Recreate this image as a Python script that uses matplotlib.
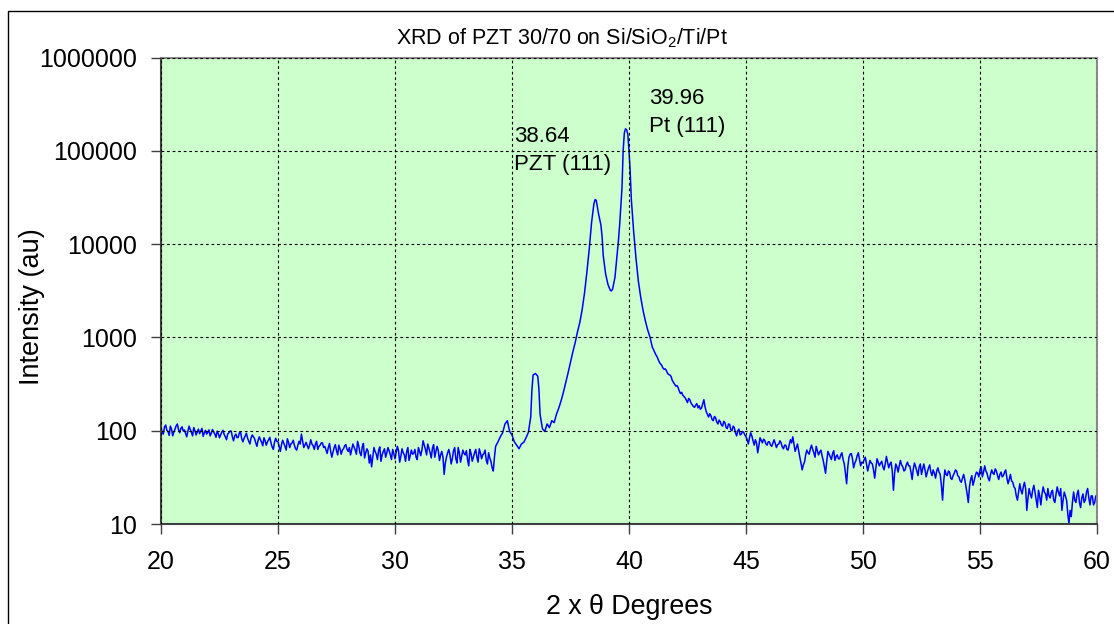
import numpy as np
import matplotlib
matplotlib.use("Agg")
import matplotlib.pyplot as plt
from matplotlib.patches import Rectangle

plt.rcParams["font.family"] = ["Liberation Sans", "DejaVu Sans"]
plt.rcParams["mathtext.fontset"] = "custom"
plt.rcParams["mathtext.rm"] = "Liberation Sans"

# ---- scan data ----
# low-angle background, 20.00 .. 34.40 deg, 0.05 deg steps
theta_low = np.round(np.arange(20.0, 34.425, 0.05), 2)
counts_low = [
    108, 96, 92, 110, 115, 101, 98, 89, 112, 104, 88, 97, 104, 113, 118, 102, 95, 106, 110, 99,
    102, 94, 86, 99, 112, 103, 96, 88, 108, 100, 90, 97, 104, 93, 99, 106, 87, 95, 101, 92,
    96, 102, 88, 94, 103, 97, 92, 85, 99, 93, 84, 90, 97, 101, 91, 86, 80, 92, 95, 99,
    99, 86, 78, 88, 92, 84, 85, 95, 97, 82, 76, 83, 88, 94, 83, 77, 72, 84, 90, 86,
    82, 74, 68, 79, 86, 80, 75, 69, 84, 78, 70, 76, 80, 85, 74, 67, 63, 75, 83, 77,
    76, 68, 60, 71, 79, 73, 68, 62, 82, 75, 66, 72, 74, 79, 70, 64, 62, 70, 77, 72,
    92, 78, 66, 70, 75, 69, 64, 70, 80, 72, 69, 63, 72, 77, 63, 68, 70, 74, 74, 66,
    68, 62, 57, 66, 73, 60, 52, 59, 66, 71, 61, 55, 70, 64, 56, 62, 64, 69, 71, 63,
    60, 66, 55, 63, 72, 67, 62, 56, 77, 69, 58, 54, 67, 73, 51, 58, 64, 60, 45, 55,
    41, 52, 66, 60, 56, 49, 62, 67, 47, 55, 60, 64, 52, 58, 66, 61, 55, 49, 63, 57,
    50, 58, 68, 61, 46, 53, 64, 58, 55, 47, 60, 66, 48, 54, 62, 56, 57, 63, 52, 49,
    66, 60, 54, 62, 78, 70, 63, 55, 72, 65, 58, 51, 65, 71, 52, 60, 68, 61, 48, 55,
    60, 52, 34, 45, 52, 58, 63, 55, 44, 50, 61, 66, 50, 45, 66, 58, 46, 53, 62, 57,
    55, 61, 49, 42, 63, 57, 47, 52, 58, 63, 52, 46, 64, 58, 50, 55, 57, 62, 48, 44,
    58, 51, 47, 40, 37, 52, 68, 72, 76,
]

# peak region, 34.5 .. 40.75 deg
theta_peaks = [
    34.5, 34.6, 34.7, 34.8, 34.9, 35.0, 35.1, 35.2, 35.3, 35.4,
    35.5, 35.6, 35.7, 35.8, 35.85, 35.9, 36.0, 36.1, 36.15, 36.2,
    36.3, 36.4, 36.5, 36.6, 36.7, 36.8, 36.9, 37.0, 37.1, 37.2,
    37.3, 37.4, 37.5, 37.6, 37.7, 37.8, 37.9, 38.0, 38.1, 38.2,
    38.3, 38.4, 38.5, 38.55, 38.6, 38.65, 38.7, 38.8, 38.85, 38.9,
    39.0, 39.1, 39.2, 39.25, 39.3, 39.4, 39.5, 39.55, 39.6, 39.7,
    39.75, 39.8, 39.85, 39.9, 39.95, 40.0, 40.05, 40.1, 40.2, 40.3,
    40.4, 40.5, 40.6, 40.7,
]
counts_peaks = [
    86, 95, 118, 128, 98, 90, 76, 70, 64, 72,
    75, 84, 96, 140, 270, 395, 410, 385, 280, 150,
    105, 98, 118, 108, 128, 122, 150, 175, 210, 260,
    330, 420, 540, 700, 880, 1150, 1450, 2000, 3000, 5000,
    8800, 17000, 27000, 30000, 29500, 25000, 21000, 16000, 12000, 7500,
    4800, 3700, 3200, 3150, 3300, 4400, 8000, 11000, 16000, 40000,
    100000, 155000, 172000, 168000, 150000, 100000, 60000, 30000, 13500, 7000,
    4000, 2700, 1950, 1500,
]

# Pt tail, 40.80 .. 44.95 deg, 0.05 deg steps
theta_tail = np.round(np.arange(40.8, 44.975, 0.05), 2)
counts_tail = [
    1200, 1100, 1000, 880, 780, 740, 690, 650, 620, 580,
    540, 520, 500, 470, 455, 460, 440, 410, 400, 395,
    380, 345, 330, 315, 300, 305, 290, 265, 250, 258,
    240, 232, 225, 212, 200, 222, 215, 198, 190, 182,
    178, 188, 195, 176, 185, 170, 175, 195, 215, 180,
    160, 150, 140, 152, 145, 132, 128, 142, 138, 124,
    118, 130, 125, 115, 112, 126, 122, 108, 105, 118,
    117, 102, 100, 112, 108, 95, 88, 100, 104, 90,
    92, 98, 96, 90,
]

# high-angle background, 45.00 .. 60.00 deg, 0.05 deg steps
theta_high = np.round(np.arange(45.0, 60.025, 0.05), 2)
counts_high = [
    86, 80, 72, 84, 95, 88, 78, 70, 80, 74, 58, 69, 84, 79, 74, 81, 79, 72, 70, 76,
    76, 70, 68, 74, 80, 73, 66, 71, 72, 78, 74, 67, 64, 70, 70, 63, 62, 71, 80, 74,
    86, 72, 60, 66, 72, 61, 52, 45, 38, 43, 46, 55, 62, 58, 56, 64, 70, 63, 58, 52,
    68, 61, 55, 59, 62, 54, 48, 41, 35, 47, 60, 56, 52, 49, 57, 61, 48, 53, 55, 50,
    50, 55, 58, 49, 44, 35, 27, 41, 52, 56, 57, 50, 40, 45, 48, 54, 58, 49, 42, 46,
    45, 49, 52, 44, 37, 42, 48, 45, 44, 38, 31, 40, 50, 46, 42, 45, 47, 41, 38, 44,
    53, 46, 40, 44, 46, 37, 23, 35, 44, 41, 36, 42, 48, 43, 41, 37, 38, 43, 46, 42,
    42, 36, 30, 39, 45, 41, 37, 33, 41, 44, 34, 39, 44, 38, 32, 36, 40, 43, 36, 33,
    38, 35, 31, 37, 40, 36, 34, 26, 18, 29, 38, 34, 33, 37, 36, 31, 30, 33, 35, 38,
    37, 33, 32, 29, 28, 31, 34, 30, 25, 21, 17, 25, 30, 33, 26, 29, 33, 36, 35, 32,
    38, 41, 32, 36, 42, 37, 35, 31, 29, 34, 38, 35, 34, 39, 37, 33, 30, 34, 36, 32,
    33, 36, 38, 31, 27, 30, 34, 29, 28, 25, 24, 20, 18, 22, 27, 23, 21, 25, 28, 24,
    14, 19, 24, 21, 19, 23, 26, 22, 18, 15, 23, 20, 16, 21, 25, 22, 21, 18, 24, 20,
    19, 22, 23, 18, 17, 21, 25, 22, 20, 24, 14, 18, 22, 20, 18, 13, 10, 14, 12, 17,
    22, 18, 17, 21, 23, 17, 15, 19, 21, 17, 18, 22, 24, 19, 16, 20, 20, 16, 17, 20,
    19,
]

x_ticks = [20, 25, 30, 35, 40, 45, 50, 55, 60]
y_ticks = [10, 100, 1000, 10000, 100000, 1000000]
y_tick_labels = ["10", "100", "1000", "10000", "100000", "1000000"]

two_theta = np.concatenate([theta_low, theta_peaks, theta_tail, theta_high])
intensity = np.concatenate([counts_low, counts_peaks, counts_tail, counts_high])

# ---- figure ----
W, H = 1114, 624
fig = plt.figure(figsize=(W / 100, H / 100), dpi=100)
fig.patch.set_facecolor("white")

# outer chart frame (only left and top edges visible)
fig.add_artist(Rectangle((8 / W, -0.05), 1.2, 1 - 11 / H + 0.05,
                         transform=fig.transFigure, fill=False,
                         edgecolor="black", lw=1.0))

ax = fig.add_axes([161 / W, 1 - 524 / H, (1097 - 161) / W, (524 - 57.5) / H])
ax.set_facecolor("#CCFFCC")

ax.plot(two_theta, intensity, color="#0000FF", lw=1.1)

ax.set_yscale("log")
ax.set_xlim(20, 60)
ax.set_ylim(10, 1000000)
ax.set_xticks(x_ticks)
ax.set_xticklabels([str(t) for t in x_ticks])
ax.set_yticks(y_ticks)
ax.set_yticklabels(y_tick_labels)
ax.yaxis.set_minor_locator(matplotlib.ticker.NullLocator())

ax.grid(True, which="major", color="black", linestyle=(0, (2.5, 2.5)), lw=0.8)
ax.set_axisbelow(False)

for side in ("top", "right"):
    ax.spines[side].set_color("#8C8C8C")
    ax.spines[side].set_linewidth(1.5)
for side in ("left", "bottom"):
    ax.spines[side].set_color("#404040")
    ax.spines[side].set_linewidth(1.5)

ax.tick_params(axis="y", direction="out", length=7, width=1, color="#404040",
               labelsize=18, pad=10)
ax.tick_params(axis="x", direction="out", length=7, width=1, color="#404040",
               labelsize=18, pad=12)

ax.set_xlabel("2 x \u03b8 Degrees", fontsize=19.3, labelpad=14)
ax.set_ylabel("Intensity (au)", fontsize=19.5)
ax.yaxis.set_label_coords(-0.124, 0.465)

fig.text(562 / W, 1 - 44 / H, "XRD of PZT 30/70 on Si/SiO$_\\mathrm{2}$/Ti/Pt",
         ha="center", va="baseline", fontsize=15.5)

ax.text(35.07, 62500, "38.64\nPZT (111)", fontsize=16, va="baseline",
        ha="left", linespacing=1.43)
ax.text(40.85, 160000, "39.96\nPt (111)", fontsize=16, va="baseline",
        ha="left", linespacing=1.43)

fig.savefig("out.png", dpi=100)
